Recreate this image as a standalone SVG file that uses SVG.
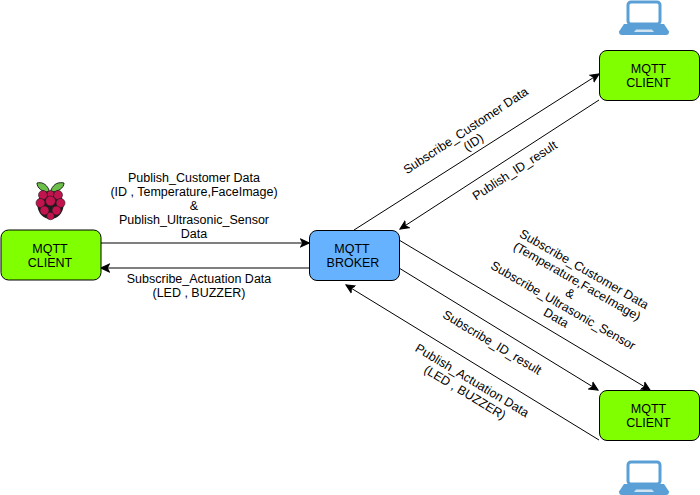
<svg xmlns="http://www.w3.org/2000/svg" width="700" height="495" viewBox="0 0 700 495">
<style>
.n{stroke:#000;stroke-width:1}
.g{fill:#80ff00}
.t{font-family:"Liberation Sans",Arial,sans-serif;font-size:12.500px;fill:#000;text-anchor:middle}
.c{fill:none;stroke:#000;stroke-width:1;marker-end:url(#a)}
.lap{fill:#5a9fd6}
</style>
<defs>
<marker id="a" markerUnits="userSpaceOnUse" markerWidth="10" markerHeight="10" refX="8" refY="4" orient="auto" viewBox="0 0 9 8"><path d="M0.500 0.500L8 4L0.500 7.500L2.400 4Z" fill="#000" stroke="#000" stroke-width="1"/></marker>
<g id="laptop">
<path class="lap" d="M-25 14.500L-20 7H20L25 14.500Q25 18 22 18H-22Q-25 18 -25 14.500Z"/>
<path d="M-8 12.500H8L10 15H-10Z" fill="#cfe3f3"/>
<rect x="-16" y="-15" width="32" height="22" rx="3" fill="#fff" stroke="#5a9fd6" stroke-width="3"/>
</g>
</defs>
<g id="connectors">
<path class="c" d="M101 243H309"/>
<path class="c" d="M309 268H101"/>
<path class="c" d="M354 230L599 74"/>
<path class="c" d="M599 100L400 229"/>
<path class="c" d="M399 240L650 390"/>
<path class="c" d="M399 268L598 390"/>
<path class="c" d="M599 440L346 285"/>
</g>
<g id="client-left">
<rect class="n g" x="1" y="230" width="100" height="50" rx="7.500"/>
<text class="t" x="50" y="253">MQTT</text><text class="t" x="50" y="267">CLIENT</text>
</g>
<g id="broker">
<rect class="n" fill="#66b2ff" x="309.500" y="230.500" width="90" height="50" rx="7.500"/>
<text class="t" x="352" y="253">MQTT</text><text class="t" x="353" y="267">BROKER</text>
</g>
<g id="client-top">
<rect class="n g" x="599.500" y="50.500" width="100" height="50" rx="7.500"/>
<text class="t" x="648.500" y="73">MQTT</text><text class="t" x="648.500" y="87">CLIENT</text>
</g>
<g id="client-bottom">
<rect class="n g" x="599.500" y="390.500" width="100" height="50" rx="7.500"/>
<text class="t" x="648.500" y="413">MQTT</text><text class="t" x="648.500" y="427">CLIENT</text>
</g>
<g id="laptop-top"><use href="#laptop" x="644" y="17"/></g>
<g id="laptop-bottom"><use href="#laptop" x="644" y="477"/></g>
<g id="raspberry-pi">
<path d="M49 190C46 183 41 182 37 183C37 188 42 192 49 192Z" fill="#6cc04a" stroke="#222" stroke-width="1"/>
<path d="M51 190C54 183 59 182 64 183C64 188 58 192 51 192Z" fill="#6cc04a" stroke="#222" stroke-width="1"/>
<ellipse cx="50.500" cy="205" rx="13" ry="14" fill="#1d1d1d"/>
<g fill="#c2134e" stroke="#1d1d1d" stroke-width="0.600">
<circle cx="43" cy="195" r="4.500"/><circle cx="58" cy="195" r="4.500"/><circle cx="50.500" cy="194" r="3.500"/>
<circle cx="40.500" cy="203" r="4.500"/><circle cx="60.500" cy="203" r="4.500"/><circle cx="50.500" cy="201" r="5"/>
<circle cx="44.500" cy="210.500" r="4.500"/><circle cx="56.500" cy="210.500" r="4.500"/>
<circle cx="50.500" cy="216" r="3.800"/>
</g>
</g>
<g id="labels">
<g class="t">
<text x="194" y="182">Publish_Customer Data</text>
<text x="194" y="196">(ID , Temperature,FaceImage)</text>
<text x="194" y="210">&amp;</text>
<text x="194" y="224">Publish_Ultrasonic_Sensor</text>
<text x="194" y="238">Data</text>
<text x="199" y="283">Subscribe_Actuation Data</text>
<text x="199" y="297">(LED , BUZZER)</text>
</g>
<g transform="translate(468,134) rotate(-33.500)">
<text class="t" x="0" y="0">Subscribe_Customer Data</text>
<text class="t" x="0" y="14">(ID)</text>
</g>
<text class="t" transform="translate(517,174) rotate(-33)">Publish_ID_result</text>
<g transform="translate(575,285) rotate(30)">
<text class="t" x="0" y="-14">Subscribe_Customer Data</text>
<text class="t" x="0" y="0">(Temperature,FaceImage)</text>
<text class="t" x="0" y="14">&amp;</text>
<text class="t" x="0" y="28">Subscribe_Ultrasonic_Sensor</text>
<text class="t" x="0" y="42">Data</text>
</g>
<text class="t" transform="translate(490,346) rotate(31)">Subscribe_ID_result</text>
<g transform="translate(470,384) rotate(31)">
<text class="t" x="0" y="0">Publish_Actuation Data</text>
<text class="t" x="0" y="14">(LED , BUZZER)</text>
</g>
</g>
</svg>
